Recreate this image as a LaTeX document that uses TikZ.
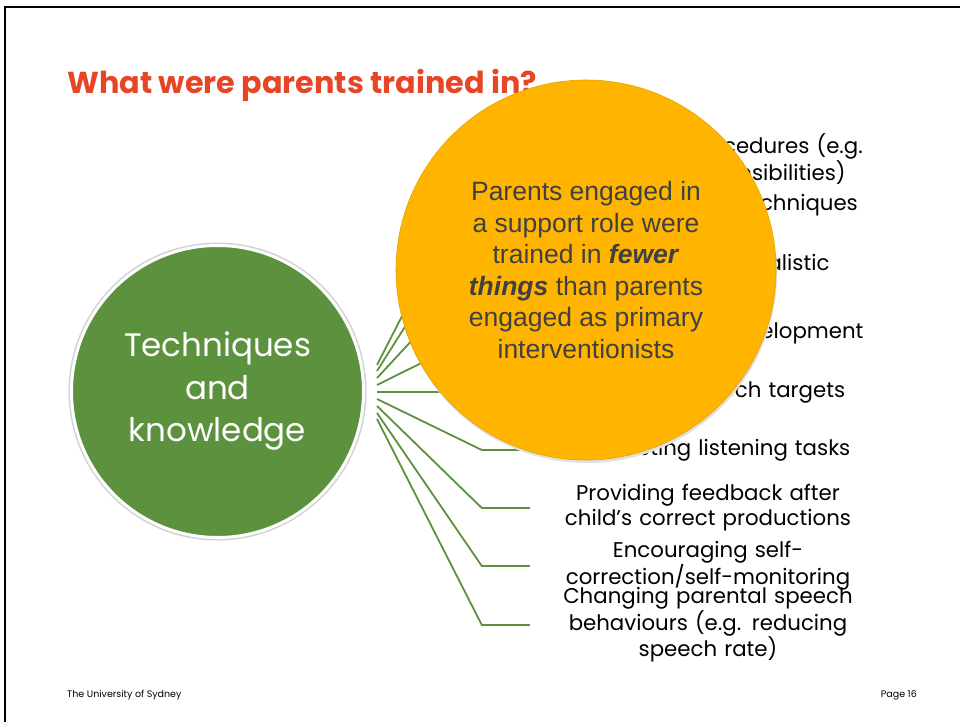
\documentclass[tikz,border=0pt]{standalone}
\usepackage{fontspec}
\setmainfont{Poppins}
\newfontfamily\arialfont{Liberation Sans}
\usetikzlibrary{positioning}

\definecolor{sydred}{RGB}{230,70,38}
\definecolor{leafgreen}{RGB}{92,146,62}
\definecolor{amber}{RGB}{255,181,0}
\definecolor{notegray}{RGB}{64,64,64}

\begin{document}
\begin{tikzpicture}[x=1pt, y=-1pt]
        \tikzstyle{every node}=[inner sep=0pt]
        \tikzstyle{item}=[text width=356pt, align=center, font=\fontsize{21.3}{25}\selectfont]
        \tikzstyle{link}=[draw=leafgreen, line width=1.8pt]

        \useasboundingbox (0,0) rectangle (960,722);
        \draw[line width=2.5pt] (5,740) -- (5,7) -- (970,7);

        \node (title) [anchor=base west, text=sydred, font=\fontsize{30.3}{32}\selectfont\bfseries] at (67,94) {What were parents trained in?};

        % list on the right
        \node (item1) [item] at (708,160) {Intervention procedures (e.g.\\ roles and responsibilities)};
        \node (item2) [item] at (708,205) {Specific therapy techniques};
        \node (item3) [item] at (708,265) {Keeping goals realistic};
        \node (item4) [item] at (708,333) {Typical speech development};
        \node (item5) [item] at (708,392) {Practising speech targets};
        \node (item6) [item] at (708,450) {Conducting listening tasks};
        \node (item7) [item] at (708,508) {Providing feedback after\\ child’s correct productions};
        \node (item8) [item] at (708,566) {Encouraging self-\\correction/self-monitoring};
        \node (item9) [item] at (708,625) {Changing parental speech\\ behaviours (e.g. reducing\\ speech rate)};

        % centre circle
        \fill[black!18] (217.5,391.5) circle (149);
        \node (tk) [circle, minimum size=292pt, fill=leafgreen, draw=white, line width=3pt,
                    text=white, align=center, font=\fontsize{32.5}{42.5}\selectfont] at (217.5,391.5)
                    {Techniques\\ and\\ knowledge};
        \coordinate (hub) at (377,392);

        \foreach \n/\s in {1/27, 2/21, 3/14, 4/7, 5/0, 6/-7, 7/-14, 8/-21, 9/-27}
            \draw[link] ([yshift=\s pt]hub) -- ([xshift=-48pt]item\n.west) -- (item\n.west);

        % call-out
        \fill[black!12] (587,273) circle (190);
        \node (note) [circle, minimum size=380pt, fill=amber, draw=amber!90!black, line width=0.6pt,
                      text=notegray, align=center, font=\arialfont\fontsize{26.5}{31.6}\selectfont] at (586,270)
                      {Parents engaged in\\ a support role were\\ trained in \textbf{\textit{fewer}}\\
                       \textbf{\textit{things}} than parents\\ engaged as primary\\ interventionists};

        \node (uni) [anchor=base west, font=\fontsize{9.5}{11}\selectfont] at (67,697) {The University of Sydney};
        \node (page) [anchor=base east, font=\fontsize{9.5}{11}\selectfont] at (917,697) {Page 16};
    \end{tikzpicture}
\end{document}
